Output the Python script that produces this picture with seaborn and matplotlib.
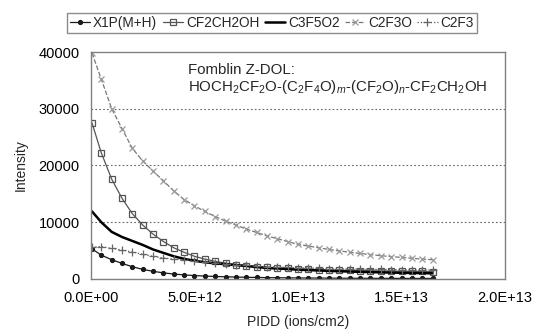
import matplotlib
matplotlib.use('Agg')
import matplotlib.pyplot as plt
from matplotlib.ticker import FuncFormatter
import seaborn as sns
import pandas as pd

# PIDD (ions/cm2)
pidd = [0.05e12, 0.5e12, 1.0e12, 1.5e12, 2.0e12, 2.5e12, 3.0e12, 3.5e12, 4.0e12, 4.5e12,
        5.0e12, 5.5e12, 6.0e12, 6.5e12, 7.0e12, 7.5e12, 8.0e12, 8.5e12, 9.0e12, 9.5e12,
        10.0e12, 10.5e12, 11.0e12, 11.5e12, 12.0e12, 12.5e12, 13.0e12, 13.5e12, 14.0e12,
        14.5e12, 15.0e12, 15.5e12, 16.0e12, 16.5e12]

x1p = [5300, 4200, 3400, 2750, 2150, 1700, 1350, 1080, 870, 720,
       600, 510, 440, 390, 340, 300, 270, 240, 220, 200,
       185, 170, 160, 150, 140, 130, 125, 120, 115, 110, 105, 100, 98, 95]
cf2ch2oh = [27500, 22200, 17600, 14200, 11500, 9500, 7900, 6600, 5500, 4700,
            4000, 3500, 3100, 2800, 2550, 2350, 2200, 2050, 1950, 1850,
            1780, 1720, 1660, 1610, 1560, 1520, 1480, 1450, 1420, 1390, 1360, 1340, 1320, 1300]
c3f5o2 = [11900, 10000, 8300, 7400, 6700, 6000, 5200, 4600, 4000, 3550,
          3200, 2950, 2750, 2600, 2450, 2300, 2100, 1950, 1850, 1750,
          1650, 1570, 1500, 1430, 1370, 1310, 1260, 1210, 1170, 1130, 1090, 1060, 1030, 1000]
c2f3o = [39800, 35200, 30000, 26500, 23000, 20800, 19000, 17300, 15500, 14000,
         12900, 11900, 11000, 10200, 9500, 8800, 8200, 7600, 7100, 6600,
         6100, 5800, 5500, 5200, 4950, 4700, 4500, 4300, 4100, 3950, 3800, 3650, 3500, 3400]
c2f3 = [5600, 5700, 5400, 5100, 4750, 4350, 3980, 3700, 3500, 3380,
        3250, 3050, 2850, 2700, 2550, 2400, 2280, 2170, 2100, 2040,
        1980, 1930, 1880, 1840, 1800, 1770, 1740, 1710, 1680, 1660, 1640, 1620, 1600, 1590]

series = ['X1P(M+H)', 'CF2CH2OH', 'C3F5O2', 'C2F3O', 'C2F3']
values = [x1p, cf2ch2oh, c3f5o2, c2f3o, c2f3]

styles = {
    'X1P(M+H)': dict(color='#1a1a1a', linestyle='-', marker='o', markersize=3,
                     markerfacecolor='#1a1a1a', markeredgecolor='#1a1a1a'),
    'CF2CH2OH': dict(color='#555555', linestyle='-', marker='s', markersize=4.5,
                     markerfacecolor='none', markeredgecolor='#555555', markeredgewidth=0.9),
    'C3F5O2': dict(color='#000000', linestyle='-', marker=None, linewidth=1.8),
    'C2F3O': dict(color='#777777', linestyle='--', marker='x', markersize=5,
                  markeredgecolor='#999999', markeredgewidth=0.9),
    'C2F3': dict(color='#555555', linestyle=':', marker='+', markersize=6,
                 markeredgecolor='#666666', markeredgewidth=0.9),
}

sns.set_theme(style='white')
plt.rcParams['font.family'] = ['Liberation Sans', 'DejaVu Sans']
plt.rcParams['mathtext.fontset'] = 'custom'
plt.rcParams['mathtext.rm'] = 'Liberation Sans'
plt.rcParams['mathtext.it'] = 'Liberation Sans:italic'

fig = plt.figure(figsize=(5.33, 3.34), dpi=100)
ax = fig.add_axes([0.1707, 0.1647, 0.7768, 0.6796])

for name, vals in zip(series, values):
    df = pd.DataFrame({'PIDD': pidd, 'Intensity': vals})
    st = dict(styles[name])
    lw = st.pop('linewidth', 0.9)
    sns.lineplot(data=df, x='PIDD', y='Intensity', ax=ax, label=name,
                 linewidth=lw, **st)

ax.set_xlim(0, 2e13)
ax.set_ylim(0, 40000)
ax.set_xticks([0, 5e12, 1e13, 1.5e13, 2e13])
ax.set_yticks([0, 10000, 20000, 30000, 40000])
ax.xaxis.set_major_formatter(FuncFormatter(lambda v, p: f'{v:.1E}'))
ax.tick_params(axis='both', labelsize=10.5, colors='#000000', length=3, direction='in')
ax.tick_params(axis='x', pad=9)
ax.tick_params(axis='y', pad=8)
for yv in [10000, 20000, 30000]:
    ax.axhline(yv, color='#666666', linestyle=(0, (1.5, 2)), linewidth=0.8, zorder=0)
for sp in ax.spines.values():
    sp.set_color('#808080')
    sp.set_linewidth(1.0)

ax.set_xlabel('PIDD (ions/cm2)', fontsize=10)
ax.set_ylabel('Intensity', fontsize=10)
ax.xaxis.set_label_coords(0.5, -0.16)
ax.yaxis.set_label_coords(-0.152, 0.5)

ax.text(0.234, 0.95, 'Fomblin Z-DOL:', transform=ax.transAxes, fontsize=10.8, va='top')
ax.text(0.234, 0.885,
        r'HOCH$_2$CF$_2$O-(C$_2$F$_4$O)$_m$-(CF$_2$O)$_n$-CF$_2$CH$_2$OH',
        transform=ax.transAxes, fontsize=10.8, va='top')

ax.get_legend().remove()
handles, labels = ax.get_legend_handles_labels()
leg = fig.legend(handles, labels, loc='center', bbox_to_anchor=(0.51, 0.931), ncol=5,
                 frameon=True, fancybox=False, edgecolor='#707070', fontsize=9.8,
                 handlelength=1.5, handletextpad=0.2, columnspacing=0.4,
                 borderpad=0.25, borderaxespad=0)
leg.get_frame().set_linewidth(1.0)

fig.savefig('out.png', dpi=100)
